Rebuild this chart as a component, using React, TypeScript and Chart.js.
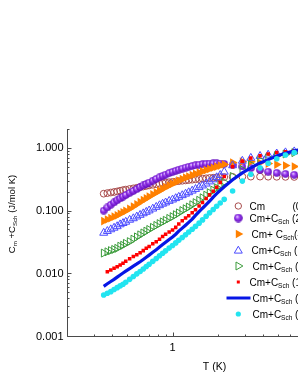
import React, { useEffect, useRef } from 'react';
import { Chart, registerables } from 'chart.js';

Chart.register(...registerables);

// ---------------- data ----------------
const temperatures = [0.35, 0.37, 0.39, 0.41, 0.43, 0.45, 0.47, 0.49, 0.52, 0.55, 0.58, 0.61, 0.64, 0.67, 0.70, 0.74, 0.78, 0.82, 0.86, 0.90, 0.95, 1.00, 1.05, 1.10, 1.16, 1.22, 1.28, 1.35, 1.42, 1.50, 1.58, 1.67, 1.76, 1.86, 1.96, 2.07, 2.2, 2.5, 2.9, 3.3, 3.8, 4.3, 4.9, 5.6, 6.4, 7.3, 8.3];

const cm0T = [0.186, 0.190, 0.194, 0.198, 0.202, 0.207, 0.212, 0.216, 0.221, 0.226, 0.231, 0.237, 0.242, 0.247, 0.252, 0.258, 0.264, 0.269, 0.274, 0.278, 0.283, 0.287, 0.291, 0.295, 0.299, 0.303, 0.307, 0.311, 0.315, 0.319, 0.323, 0.327, 0.331, 0.334, 0.337, 0.340, 0.342, 0.345, 0.347, 0.348, 0.348, 0.347, 0.346, 0.345, 0.344, 0.343, 0.342];
const sch2T = [0.100, 0.112, 0.124, 0.135, 0.146, 0.156, 0.167, 0.177, 0.192, 0.206, 0.220, 0.238, 0.252, 0.266, 0.280, 0.300, 0.320, 0.340, 0.358, 0.375, 0.396, 0.415, 0.432, 0.450, 0.468, 0.486, 0.502, 0.516, 0.528, 0.540, 0.550, 0.558, 0.563, 0.566, 0.566, 0.563, 0.556, 0.535, 0.505, 0.475, 0.445, 0.418, 0.400, 0.385, 0.372, 0.362, 0.355];
const sch4T = [0.068, 0.072, 0.076, 0.080, 0.084, 0.089, 0.094, 0.099, 0.107, 0.116, 0.126, 0.137, 0.147, 0.157, 0.167, 0.181, 0.195, 0.208, 0.222, 0.236, 0.252, 0.268, 0.284, 0.300, 0.318, 0.335, 0.350, 0.368, 0.385, 0.404, 0.422, 0.442, 0.462, 0.482, 0.502, 0.522, 0.545, 0.585, 0.605, 0.600, 0.580, 0.562, 0.542, 0.522, 0.505, 0.490, 0.478];
const sch7T = [0.044, 0.047, 0.050, 0.053, 0.056, 0.060, 0.063, 0.066, 0.071, 0.075, 0.080, 0.085, 0.090, 0.095, 0.100, 0.107, 0.114, 0.121, 0.128, 0.134, 0.142, 0.149, 0.157, 0.165, 0.175, 0.185, 0.195, 0.207, 0.220, 0.235, 0.250, 0.268, 0.290, 0.313, 0.338, 0.368, 0.415, 0.525, 0.620, 0.690, 0.740, 0.775, 0.810, 0.845, 0.875, 0.900, 0.920];
const sch9T = [0.021, 0.022, 0.023, 0.024, 0.025, 0.027, 0.028, 0.030, 0.032, 0.035, 0.038, 0.041, 0.044, 0.047, 0.050, 0.054, 0.058, 0.062, 0.066, 0.070, 0.075, 0.080, 0.086, 0.092, 0.100, 0.107, 0.114, 0.124, 0.134, 0.146, 0.160, 0.176, 0.193, 0.212, 0.232, 0.255, 0.283, 0.350, 0.450, 0.540, 0.630, 0.695, 0.750, 0.800, 0.840, 0.870, 0.890];
const sch11T = [null, 0.0106, 0.0113, 0.0120, 0.0127, 0.0136, 0.0145, 0.0155, 0.0170, 0.0185, 0.0198, 0.0212, 0.0230, 0.0250, 0.0268, 0.0295, 0.0318, 0.0350, 0.0385, 0.0420, 0.0455, 0.0490, 0.0540, 0.0610, 0.0690, 0.0760, 0.0830, 0.0920, 0.1030, 0.1180, 0.1350, 0.1560, 0.1780, 0.2030, 0.2350, 0.2800, 0.3500, 0.5000, 0.6100, 0.6900, 0.7500, 0.8000, 0.8400, 0.8700, 0.9000, 0.9200, 0.9300];
const sch14T = [0.0062, 0.0068, 0.0074, 0.0080, 0.0087, 0.0094, 0.0101, 0.0108, 0.0119, 0.0130, 0.0141, 0.0153, 0.0166, 0.0180, 0.0195, 0.0216, 0.0238, 0.0262, 0.0287, 0.0313, 0.0346, 0.0380, 0.0420, 0.0470, 0.0525, 0.0585, 0.0650, 0.0730, 0.0840, 0.0960, 0.1090, 0.1240, 0.1410, 0.1640, 0.1860, 0.2100, 0.2400, 0.3100, 0.4000, 0.4800, 0.5750, 0.6500, 0.7400, 0.8200, 0.9000, 0.9600, 1.0000];
const sch16T = [0.0045, 0.0048, 0.0051, 0.0055, 0.0059, 0.0063, 0.0067, 0.0072, 0.0080, 0.0089, 0.0098, 0.0107, 0.0117, 0.0128, 0.0139, 0.0155, 0.0172, 0.0190, 0.0209, 0.0228, 0.0252, 0.0277, 0.0305, 0.0335, 0.0372, 0.0412, 0.0455, 0.0505, 0.0560, 0.0630, 0.0710, 0.0810, 0.0920, 0.1040, 0.1170, 0.1320, 0.1510, 0.2050, 0.2950, 0.3800, 0.4800, 0.5700, 0.6700, 0.7700, 0.8400, 0.9000, 0.9400];

const legendMain = ['Cm', 'Cm+C', 'Cm+ C', 'Cm+C', 'Cm+C', 'Cm+C', 'Cm+C', 'Cm+C'];
const legendSub = ['', 'Sch', 'Sch', 'Sch', 'Sch', 'Sch', 'Sch', 'Sch'];
const legendField = ['(0 T)', '(2 T)', '(4 T)', '(7 T)', '(9 T)', '(11 T)', '(14 T)', '(16 T)'];

const yTickValues = [0.001, 0.01, 0.1, 1];
const yTickLabels = ['0.001', '0.010', '0.100', '1.000'];
const xTickValues = [1];
const xTickLabels = ['1'];
const xTitle = 'T (K)';

// ---------------- styles ----------------
const FONT = '"Liberation Sans", Arial, sans-serif';
const C_BROWN = '#a84c4c';
const C_ORANGE = '#ff8000';
const C_BLUETRI = '#4a4aff';
const C_GREEN = '#3c9c3c';
const C_RED = '#ff0000';
const C_BLUE = '#0616e6';
const C_CYAN = '#22e4f0';

function makeBall(d: number) {
  const c = document.createElement('canvas');
  c.width = d;
  c.height = d;
  const g = c.getContext('2d')!;
  const grad = g.createRadialGradient(d * 0.36, d * 0.34, 0.3, d / 2, d / 2, d / 2);
  grad.addColorStop(0, '#e6ccff');
  grad.addColorStop(0.4, '#9b3cf2');
  grad.addColorStop(1, '#5a08b4');
  g.fillStyle = grad;
  g.beginPath();
  g.arc(d / 2, d / 2, d / 2 - 0.2, 0, Math.PI * 2);
  g.fill();
  return c;
}

function toPoints(vals: (number | null)[]) {
  const pts: { x: number; y: number }[] = [];
  vals.forEach((v, i) => {
    if (v !== null && v !== undefined) pts.push({ x: temperatures[i], y: v });
  });
  return pts;
}

function drawRich(ctx: CanvasRenderingContext2D, x: number, base: number, main: string, sub: string, tail: string, size: number) {
  ctx.font = `${size}px ${FONT}`;
  ctx.fillText(main, x, base);
  x += ctx.measureText(main).width;
  if (sub) {
    ctx.font = `${size * 0.65}px ${FONT}`;
    ctx.fillText(sub, x, base + size * 0.25);
    x += ctx.measureText(sub).width;
  }
  ctx.font = `${size}px ${FONT}`;
  ctx.fillText(tail, x, base);
}

function tri(ctx: CanvasRenderingContext2D, x: number, y: number, r: number, rotDeg: number) {
  let rad = (rotDeg * Math.PI) / 180;
  ctx.beginPath();
  for (let k = 0; k < 3; k++) {
    const px = x + Math.sin(rad) * r;
    const py = y - Math.cos(rad) * r;
    if (k === 0) ctx.moveTo(px, py);
    else ctx.lineTo(px, py);
    rad += (2 * Math.PI) / 3;
  }
  ctx.closePath();
}

export default function App() {
  const ref = useRef<HTMLCanvasElement>(null);

  useEffect(() => {
    const canvas = ref.current!;
    const ball = makeBall(8);
    const legendBall = makeBall(9);

    const axesPlugin = {
      id: 'customAxes',
      afterDraw(chart: any) {
        const { ctx, chartArea: a, scales } = chart;
        const xs = scales.x;
        const ys = scales.y;
        ctx.save();
        ctx.strokeStyle = '#4a4a4a';
        ctx.lineWidth = 1;
        const L = Math.round(a.left) + 0.5;
        const B = Math.round(a.bottom) + 0.5;
        ctx.beginPath();
        ctx.moveTo(L, a.top);
        ctx.lineTo(L, B);
        ctx.lineTo(a.right, B);
        ctx.stroke();
        // y ticks
        for (let k = -3; k <= 0; k++) {
          for (let m = 1; m <= 9; m++) {
            const v = m * Math.pow(10, k);
            if (v < ys.min - 1e-12 || v > ys.max + 1e-12) continue;
            const py = Math.round(ys.getPixelForValue(v)) + 0.5;
            const len = m === 1 ? 4 : 2;
            ctx.beginPath();
            ctx.moveTo(L, py);
            ctx.lineTo(L + len, py);
            ctx.stroke();
          }
        }
        // x ticks
        for (let k = -1; k <= 1; k++) {
          for (let m = 1; m <= 9; m++) {
            const v = m * Math.pow(10, k);
            if (v < xs.min - 1e-12 || v > xs.max + 1e-12) continue;
            const px = Math.round(xs.getPixelForValue(v)) + 0.5;
            const len = m === 1 ? 4 : 2;
            ctx.beginPath();
            ctx.moveTo(px, B);
            ctx.lineTo(px, B - len);
            ctx.stroke();
          }
        }
        // tick labels
        ctx.fillStyle = '#000';
        ctx.font = `11px ${FONT}`;
        ctx.textAlign = 'right';
        ctx.textBaseline = 'middle';
        yTickValues.forEach((v, i) => {
          ctx.fillText(yTickLabels[i], a.left - 3.5, ys.getPixelForValue(v) + 0.5);
        });
        ctx.textAlign = 'center';
        ctx.textBaseline = 'alphabetic';
        xTickValues.forEach((v, i) => {
          ctx.fillText(xTickLabels[i], xs.getPixelForValue(v), a.bottom + 14.5);
        });
        // x title
        ctx.font = `10.5px ${FONT}`;
        ctx.fillText(xTitle, 214.5, 369.5);
        // y title (rotated, with subscripts)
        ctx.save();
        ctx.translate(14.5, 214);
        ctx.rotate(-Math.PI / 2);
        ctx.textAlign = 'left';
        const ts = 9.5;
        const sub = ts * 0.65;
        ctx.font = `${ts}px ${FONT}`;
        const w1 = ctx.measureText('C').width;
        const w3 = ctx.measureText(' +C').width;
        const w5 = ctx.measureText(' (J/mol K)').width;
        ctx.font = `${sub}px ${FONT}`;
        const w2 = ctx.measureText('m').width;
        const w4 = ctx.measureText('Sch').width;
        let x = -(w1 + w2 + w3 + w4 + w5) / 2;
        ctx.font = `${ts}px ${FONT}`;
        ctx.fillText('C', x, 0);
        x += w1;
        ctx.font = `${sub}px ${FONT}`;
        ctx.fillText('m', x, 2.5);
        x += w2;
        ctx.font = `${ts}px ${FONT}`;
        ctx.fillText(' +C', x, 0);
        x += w3;
        ctx.font = `${sub}px ${FONT}`;
        ctx.fillText('Sch', x, 2.5);
        x += w4;
        ctx.font = `${ts}px ${FONT}`;
        ctx.fillText(' (J/mol K)', x, 0);
        ctx.restore();

        // legend
        const rows = [206, 218, 234, 250, 266, 282, 298, 314];
        const textX = [249.5, 249.5, 251.5, 251.5, 252.5, 249.5, 252.5, 252.5];
        const mx = 238.3;
        ctx.textAlign = 'left';
        ctx.textBaseline = 'alphabetic';
        for (let i = 0; i < 8; i++) {
          const y = rows[i];
          ctx.save();
          switch (i) {
            case 0:
              ctx.strokeStyle = C_BROWN;
              ctx.lineWidth = 1;
              ctx.beginPath();
              ctx.arc(mx, y, 3.2, 0, Math.PI * 2);
              ctx.stroke();
              break;
            case 1:
              ctx.drawImage(legendBall, mx - 4.5, y - 4.5);
              break;
            case 2:
              ctx.fillStyle = C_ORANGE;
              tri(ctx, mx, y, 5, 90);
              ctx.fill();
              break;
            case 3:
              ctx.strokeStyle = C_BLUETRI;
              ctx.lineWidth = 1;
              tri(ctx, mx, y + 0.8, 4.6, 0);
              ctx.stroke();
              break;
            case 4:
              ctx.strokeStyle = C_GREEN;
              ctx.lineWidth = 1;
              tri(ctx, mx, y, 4.6, 90);
              ctx.stroke();
              break;
            case 5:
              ctx.fillStyle = C_RED;
              ctx.fillRect(mx - 1.5, y - 1.5, 3, 3);
              break;
            case 6:
              ctx.strokeStyle = C_BLUE;
              ctx.lineWidth = 3;
              ctx.beginPath();
              ctx.moveTo(226.5, y);
              ctx.lineTo(250.5, y);
              ctx.stroke();
              break;
            case 7:
              ctx.fillStyle = C_CYAN;
              ctx.beginPath();
              ctx.arc(mx, y, 2.6, 0, Math.PI * 2);
              ctx.fill();
              break;
          }
          ctx.restore();
          ctx.fillStyle = '#000';
          if (i === 0) {
            drawRich(ctx, textX[i], y + 3.6, legendMain[i], '', '', 10);
            ctx.font = `10px ${FONT}`;
            ctx.fillText(legendField[i], 292.5, y + 3.6);
          } else {
            drawRich(ctx, textX[i], y + 3.6, legendMain[i], legendSub[i], (i === 2 ? '' : ' ') + legendField[i], 10);
          }
        }
        ctx.restore();
      },
    };

    const series: any[] = [
      {
        data: toPoints(cm0T),
        pointStyle: 'circle',
        pointRadius: 3.4,
        pointBorderWidth: 1,
        pointBorderColor: C_BROWN,
        pointBackgroundColor: 'rgba(0,0,0,0)',
      },
      {
        data: toPoints(sch2T),
        pointStyle: ball,
        pointRadius: 4,
      },
      {
        data: toPoints(sch4T),
        pointStyle: 'triangle',
        pointRotation: 90,
        pointRadius: 5,
        pointBorderWidth: 0,
        pointBorderColor: C_ORANGE,
        pointBackgroundColor: C_ORANGE,
      },
      {
        data: toPoints(sch7T),
        pointStyle: 'triangle',
        pointRadius: 4.6,
        pointBorderWidth: 1,
        pointBorderColor: C_BLUETRI,
        pointBackgroundColor: 'rgba(0,0,0,0)',
      },
      {
        data: toPoints(sch9T),
        pointStyle: 'triangle',
        pointRotation: 90,
        pointRadius: 4.6,
        pointBorderWidth: 1,
        pointBorderColor: C_GREEN,
        pointBackgroundColor: 'rgba(0,0,0,0)',
      },
      {
        data: toPoints(sch11T),
        pointStyle: 'rect',
        pointRadius: 2.5,
        pointBorderWidth: 0,
        pointBorderColor: C_RED,
        pointBackgroundColor: C_RED,
      },
      {
        data: toPoints(sch14T),
        showLine: true,
        borderColor: C_BLUE,
        borderWidth: 3.2,
        pointRadius: 0,
        tension: 0,
      },
      {
        data: toPoints(sch16T),
        pointStyle: 'circle',
        pointRadius: 2.8,
        pointBorderWidth: 0,
        pointBorderColor: C_CYAN,
        pointBackgroundColor: C_CYAN,
      },
    ];
    series.forEach((s, i) => {
      s.order = series.length - i;
      s.label = legendField[i];
    });

    const chart = new Chart(canvas, {
      type: 'scatter',
      data: { datasets: series },
      plugins: [axesPlugin],
      options: {
        animation: false,
        responsive: false,
        devicePixelRatio: 1,
        events: [],
        layout: { padding: { left: 67, top: 129, right: 16.5, bottom: 49 } },
        plugins: { legend: { display: false }, tooltip: { enabled: false } },
        scales: {
          x: { type: 'logarithmic', min: 0.2, max: 10, display: false },
          y: { type: 'logarithmic', min: 0.001, max: 2, display: false },
        },
      },
    } as any);

    return () => chart.destroy();
  }, []);

  return (
    <div style={{ position: 'fixed', left: 0, top: 0, width: 298, height: 385, overflow: 'hidden', background: '#fff' }}>
      <canvas ref={ref} width={340} height={385} style={{ display: 'block', width: 340, height: 385 }} />
    </div>
  );
}
